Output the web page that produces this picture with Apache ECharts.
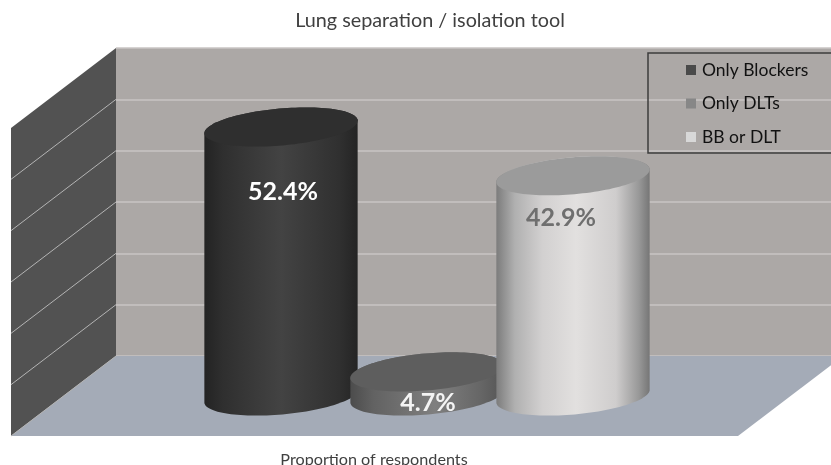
<!DOCTYPE html>
<html>
<head>
<meta charset="utf-8">
<script src="https://cdn.jsdelivr.net/npm/echarts@6/dist/echarts.min.js"></script>
<style>
  html, body { margin: 0; padding: 0; background: #fff; }
  #main { width: 831px; height: 465px; }
</style>
</head>
<body>
<div id="main"></div>
<script>
const categories = ['Only Blockers', 'Only DLTs', 'BB or DLT'];
const values = [52.4, 4.7, 42.9];
const wallTicks = [0, 10, 20, 30, 40, 50];

const chart = echarts.init(document.getElementById('main'));
const FONT = 'Lato, "Open Sans", sans-serif';

// depth of the fake 3d box, back wall to front edge
const DEPTH_X = -105;
const DEPTH_Y = 80;
// the floor runs a little past the window on the right
const FLOOR_OVERHANG = 12;
const TILT = 5 * Math.PI / 180;

function sideGradient(stops) {
  return new echarts.graphic.LinearGradient(0, 0, 1, 0, stops.map(s => ({ offset: s[0], color: s[1] })));
}

const looks = [
  {
    legend: '#4a4a4a', top: '#2f2f2f', label: '#ffffff', dx: 2, dy: 65,
    side: [[0, '#232323'], [0.12, '#2f2f2f'], [0.5, '#434343'], [0.88, '#303030'], [1, '#242424']]
  },
  {
    legend: '#878787', top: '#5e5e5e', label: '#f4f4f4', dx: 1, dy: 31,
    side: [[0, '#4c4c4c'], [0.15, '#626262'], [0.55, '#7f7f7f'], [0.85, '#666666'], [1, '#555555']]
  },
  {
    legend: '#d8d8d8', top: '#9b9b9b', label: '#6f6f6f', dx: -12, dy: 42,
    side: [[0, '#7c7c7c'], [0.12, '#b0b0b0'], [0.3, '#d2d0d0'], [0.52, '#e2e0df'], [0.78, '#cfcdcd'], [0.93, '#989898'], [1, '#767676']]
  }
];

function ellipsePoint(cx, cy, rx, ry, t) {
  const ex = rx * Math.cos(t), ey = ry * Math.sin(t);
  return [
    cx + ex * Math.cos(TILT) + ey * Math.sin(TILT),
    cy - ex * Math.sin(TILT) + ey * Math.cos(TILT)
  ];
}

function renderCylinder(look) {
  return function (params, api) {
    const base = api.coord([api.value(0), 0]);
    const top = api.coord([api.value(0), api.value(1)]);
    const rx = api.size([1, 0])[0] * 0.527;
    const ry = rx * 0.24;
    const body = [];
    const lid = [];
    for (let i = 0; i <= 60; i++) {
      // upper half of the lid, then lower half of the base
      body.push(ellipsePoint(top[0], top[1], rx, ry, Math.PI + Math.PI * i / 60));
    }
    for (let i = 0; i <= 60; i++) {
      body.push(ellipsePoint(base[0], base[1], rx, ry, Math.PI * i / 60));
    }
    for (let i = 0; i < 120; i++) {
      lid.push(ellipsePoint(top[0], top[1], rx, ry, Math.PI * 2 * i / 120));
    }
    return {
      type: 'group',
      children: [
        { type: 'polygon', shape: { points: body }, style: { fill: sideGradient(look.side) } },
        { type: 'polygon', shape: { points: lid }, style: { fill: look.top } },
        {
          type: 'text',
          style: {
            text: api.value(1).toFixed(1) + '%',
            x: top[0] + look.dx,
            y: top[1] + look.dy,
            align: 'center',
            verticalAlign: 'middle',
            fill: look.label,
            font: 'bold 25px ' + FONT
          }
        }
      ]
    };
  };
}

const cylinderSeries = categories.map((name, i) => ({
  name: name,
  type: 'custom',
  xAxisIndex: 0,
  yAxisIndex: 0,
  z: 3 + i,
  silent: true,
  itemStyle: { color: looks[i].legend },
  renderItem: renderCylinder(looks[i]),
  data: [[i, values[i]]]
}));

const option = {
  animation: false,
  backgroundColor: '#ffffff',
  title: [
    {
      text: 'Lung separation / isolation tool',
      left: 425, top: 6, textAlign: 'center',
      textStyle: { fontFamily: FONT, fontSize: 19.8, fontWeight: 'normal', color: '#404040' }
    },
    {
      text: 'Proportion of respondents',
      left: 369, top: 447, textAlign: 'center',
      textStyle: { fontFamily: FONT, fontSize: 16.2, fontWeight: 'normal', color: '#404040' }
    }
  ],
  legend: {
    orient: 'vertical',
    left: 648,
    top: 53,
    padding: [8, 40, 7, 38],
    itemWidth: 10,
    itemHeight: 10,
    itemGap: 15.5,
    icon: 'rect',
    borderColor: '#3c3c3c',
    borderWidth: 1.5,
    selectedMode: false,
    textStyle: { fontFamily: FONT, fontSize: 17.5, color: '#111111', padding: [0, 0, 0, 1] },
    data: categories.map((name, i) => ({ name: name, itemStyle: { color: looks[i].legend } }))
  },
  grid: [
    // cylinders stand halfway into the box
    { left: 208, width: 438, top: 88, height: 308 },
    // back wall
    {
      left: 116, width: 715, top: 48, height: 308,
      show: true, backgroundColor: '#aca8a6', borderWidth: 0
    }
  ],
  xAxis: [
    { type: 'category', gridIndex: 0, data: categories, show: false },
    { type: 'value', gridIndex: 1, min: 0, max: 1, show: false }
  ],
  yAxis: [
    { type: 'value', gridIndex: 0, min: 0, max: 60, interval: 10, show: false },
    {
      type: 'value', gridIndex: 1, min: 0, max: 60, interval: 10,
      axisLabel: { show: false }, axisLine: { show: false }, axisTick: { show: false },
      splitLine: { show: true, lineStyle: { color: '#c8c5c3', width: 1.5 } }
    }
  ],
  series: [
    {
      type: 'custom',
      xAxisIndex: 1,
      yAxisIndex: 1,
      z: 1,
      silent: true,
      data: [[0, 0]],
      renderItem: function (params, api) {
        const a = api.coord([0, 0]);
        const b = api.coord([1, 0]);
        const c = api.coord([0, 60]);
        const bx = b[0] + FLOOR_OVERHANG;
        return {
          type: 'group',
          children: [
            {
              type: 'polygon',
              shape: { points: [a, [bx, b[1]], [bx + DEPTH_X, b[1] + DEPTH_Y], [a[0] + DEPTH_X, a[1] + DEPTH_Y]] },
              style: { fill: '#a4abb7' }
            },
            {
              type: 'polygon',
              shape: { points: [c, a, [a[0] + DEPTH_X, a[1] + DEPTH_Y], [c[0] + DEPTH_X, c[1] + DEPTH_Y]] },
              style: { fill: '#525252' }
            }
          ]
        };
      }
    },
    {
      type: 'custom',
      xAxisIndex: 1,
      yAxisIndex: 1,
      z: 2,
      silent: true,
      data: wallTicks.map(v => [0, v]),
      renderItem: function (params, api) {
        const p = api.coord([0, api.value(1)]);
        return {
          type: 'line',
          shape: { x1: p[0], y1: p[1], x2: p[0] + DEPTH_X, y2: p[1] + DEPTH_Y },
          style: { stroke: '#b4b4b4', lineWidth: 1 }
        };
      }
    }
  ].concat(cylinderSeries)
};

chart.setOption(option);
</script>
</body>
</html>
